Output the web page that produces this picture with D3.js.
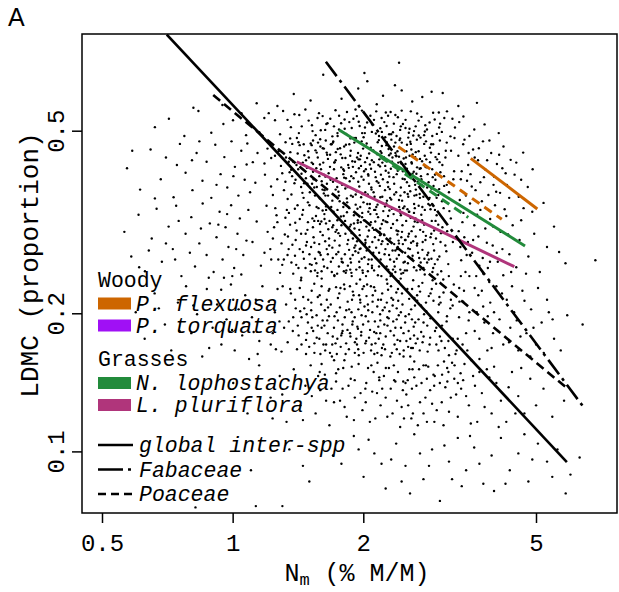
<!DOCTYPE html>
<html><head><meta charset="utf-8">
<script src="https://cdn.jsdelivr.net/npm/d3@7"></script>
<style>body{margin:0;background:#fff}svg{display:block}</style>
</head><body><svg id="c" width="619" height="592"></svg>
<script>
const xTicks=[0.5,1,2,5];
const yTicks=[0.1,0.2,0.5];
const points=[
[1.617,.662],[2.043,.641],[2.418,.703],[2.366,.628],[2.452,.612],[2.874,.608],[1.383,.601],[2.221,.596],[3.048,.604],[1.947,.618],
[1.136,.574],[1.782,.587],[2.593,.579],[3.312,.566],[.947,.569],[2.148,.571],[2.735,.592],[1.512,.582],[3.655,.575],[1.268,.566],[.812,.561],[2.012,.668],
[.713,.531],[.834,.552],[.952,.517],[1.048,.546],[1.117,.508],[1.183,.533],[1.252,.527],[1.307,.552],[1.362,.509],[1.424,.541],
[1.471,.556],[1.523,.514],[1.581,.546],[1.634,.502],[1.679,.531],[1.726,.554],[1.778,.519],[1.834,.549],[1.881,.507],[1.933,.538],
[1.986,.553],[2.041,.521],[2.093,.497],[2.142,.551],[2.204,.533],[2.263,.512],[2.312,.549],[2.371,.541],[2.432,.502],[2.503,.528],
[2.574,.551],[2.641,.511],[2.723,.536],[2.804,.503],[2.897,.547],[3.006,.518],[3.118,.551],[3.253,.508],[3.402,.537],[1.553,.489],
[2.003,.484],[2.352,.518],[1.744,.494],[2.607,.488],[1.286,.491],[3.604,.503],[1.406,.482],[1.497,.526],[1.612,.538],[1.697,.486],
[1.811,.529],[1.903,.482],[1.962,.512],[2.077,.539],[2.174,.487],[2.236,.522],[2.294,.491],[2.403,.535],[2.468,.517],[2.539,.483],
[2.682,.526],[2.761,.489],[2.843,.521],[2.955,.492],[3.074,.533],[3.176,.486],[3.327,.522],[3.512,.487],[3.806,.516],[4.103,.494],
[1.211,.546],[1.338,.528],[1.443,.511],[1.569,.533],[1.654,.519],[1.759,.539],[1.857,.522],[1.919,.556],[2.018,.508],[2.117,.528],
[2.189,.506],[2.281,.539],[2.341,.496],[2.452,.553],[2.556,.505],[2.662,.545],[2.779,.514],[2.921,.529],[3.034,.497],[1.074,.489],
[.893,.495],[1.002,.527],[1.152,.496],[1.388,.543],[1.596,.501],[1.712,.511],[1.898,.531],[2.254,.548],[2.502,.507],[2.618,.499],
[3.209,.531],[2.986,.548],[2.386,.487],[1.826,.492],[1.528,.499],[.774,.487],[.662,.509],
[1.532,.476],[1.758,.503],[1.983,.474],[2.207,.497],[2.432,.481],[2.657,.478],[2.884,.487],[3.114,.471],[1.644,.517],[1.869,.481],
[2.096,.516],[2.321,.478],[2.547,.495],[2.773,.498],[3.002,.476],[1.421,.494],[1.705,.474],[2.138,.493],[2.566,.473],[2.991,.508],
[1.591,.479],[2.016,.494],[2.441,.511],[2.867,.467],[1.812,.505],[2.264,.472],[2.709,.483],[1.357,.481],[3.245,.482],[1.952,.523],
[.571,.414],[.612,.372],[.647,.455],[.683,.392],[.702,.437],[.731,.358],[.756,.468],[.779,.405],[.808,.371],[.826,.447],
[.852,.389],[.871,.428],[.893,.357],[.912,.466],[.938,.402],[.957,.438],[.972,.376],[.994,.474],[1.012,.417],[1.031,.361],
[1.047,.452],[1.066,.391],[1.081,.469],[1.097,.367],[1.113,.427],[1.128,.385],[1.141,.447],[.662,.356],[.744,.421],[.838,.474],
[.918,.381],[1.004,.398],[1.077,.422],[.587,.452],[.806,.431],
[1.712,.412],[2.381,.367],[1.493,.451],[2.814,.402],[1.958,.378],[2.207,.463],[1.267,.392],[2.634,.438],[1.833,.356],[3.042,.421],
[1.584,.398],[2.115,.427],[2.947,.371],[1.372,.468],[2.468,.408],[1.659,.361],[2.293,.442],[1.184,.424],[2.726,.381],[1.907,.471],
[2.052,.402],[1.438,.377],[3.186,.452],[2.539,.359],[1.774,.444],[2.348,.396],[1.238,.362],[2.897,.467],[1.617,.426],[2.002,.349],
[2.661,.416],[1.524,.383],[2.172,.477],[1.327,.437],[2.417,.353],[1.876,.398],[3.114,.381],[1.691,.467],[2.771,.441],[1.416,.412],
[2.244,.371],[1.964,.433],[2.581,.455],[1.203,.457],[2.932,.391],[1.548,.361],[2.081,.459],[1.787,.381],[2.502,.423],[1.301,.404],
[2.697,.364],[1.639,.476],[2.329,.428],[1.852,.415],[3.238,.408],[1.457,.357],[2.148,.388],[2.849,.427],[1.736,.394],[2.453,.471],
[1.252,.441],[2.027,.412],[1.921,.363],[2.607,.392],[1.571,.437],[2.268,.352],[1.396,.391],[2.986,.445],[1.807,.462],[2.196,.401],
[2.751,.359],[1.664,.404],[2.372,.447],[1.513,.469],[2.112,.367],[1.339,.355],[3.069,.398],[1.945,.447],[2.521,.386],[1.753,.368],
[2.315,.413],[1.604,.388],[2.789,.474],[1.451,.426],[2.061,.383],[1.887,.429],[2.436,.361],[1.226,.378],[2.883,.412],[1.677,.443],
[2.231,.438],[1.532,.407],[2.643,.372],[1.981,.397],[2.408,.426],[1.358,.449],[2.977,.362],[1.819,.436],[2.153,.444],[1.588,.356],
[2.557,.441],[1.727,.431],[2.036,.469],[1.475,.394],[2.716,.398],[1.292,.419],[2.276,.386],[1.842,.377],[3.151,.367],[1.623,.457],
[2.491,.392],[1.924,.406],[2.189,.358],[1.403,.421],[2.828,.386],[1.697,.352],[2.354,.462],[1.559,.414],[2.093,.431],[1.768,.458],
[2.614,.407],[1.498,.437],[2.003,.391],[1.871,.452],[2.441,.376],[1.313,.371],[2.958,.433],[1.649,.383],[2.247,.419],[1.187,.401],
[2.682,.451],[1.542,.376],[2.128,.407],[1.799,.402],[2.531,.364],[1.427,.465],[2.794,.416],[1.976,.419],[2.302,.373],[1.714,.426],
[2.388,.402],[1.611,.372],[2.041,.436],[1.861,.388],[2.587,.424],[1.364,.411],[3.011,.406],[1.742,.377],[2.219,.392],[1.487,.383],
[2.478,.435],[1.931,.369],[2.167,.421],[1.676,.417],[2.732,.429],[1.562,.448],[2.319,.354],[1.998,.457],[2.864,.448],[1.276,.451],
[2.087,.376],[1.824,.394],[2.429,.414],[1.593,.462],[2.669,.387],[1.388,.384],[2.261,.465],[1.789,.436],[2.136,.396],[1.636,.397],
[2.513,.451],[1.947,.387],[2.356,.383],[1.463,.442],[2.903,.379],[1.703,.387],[2.071,.422],[1.914,.428],[2.623,.361],[1.521,.426],
[2.203,.447],[1.758,.361],[2.464,.393],[1.347,.428],[3.092,.437],[1.658,.434],[2.021,.367],[1.857,.467],[2.287,.405],[1.598,.412],
[2.702,.434],[1.441,.403],[2.159,.472],[1.806,.409],[2.552,.379],[1.973,.441],[2.397,.451],[1.227,.436],[2.843,.357],[1.681,.391],
[2.055,.399],[1.537,.392],[2.335,.437],[1.892,.359],[2.599,.444],[1.412,.446],[2.183,.379],[1.729,.449],[2.926,.401],[1.628,.371],
[2.448,.424],[1.954,.414],[2.253,.409],[1.483,.415],[2.763,.468],[1.846,.421],[2.109,.453],[1.573,.471],[2.489,.367],[1.323,.387],
[2.019,.427],[1.779,.416],[2.371,.471],[1.647,.448],[2.651,.403],[1.935,.437],[2.213,.426],[1.506,.367],[3.225,.392],[1.866,.441],
[2.417,.439],[1.703,.471],[2.123,.359],[1.589,.422],[2.573,.468],[1.992,.364],[2.338,.424],[1.458,.467],[2.807,.376],[1.746,.456],
[2.063,.446],[1.622,.365],[2.287,.456],[1.899,.394],[2.521,.413],[1.371,.398],[2.178,.433],[1.818,.374],[2.712,.414],[1.552,.453],
[1.324,.472],[1.527,.322],[1.745,.487],[1.962,.276],[2.186,.418],[2.407,.302],[2.633,.381],[2.871,.263],[3.098,.452],[1.438,.298],
[1.651,.443],[1.873,.361],[2.094,.254],[2.318,.491],[2.547,.333],[2.776,.418],[3.013,.286],[1.366,.363],[1.588,.271],[1.807,.395],
[2.029,.462],[2.252,.317],[2.476,.258],[2.701,.357],[2.934,.438],[1.401,.255],[1.622,.401],[1.846,.289],[2.071,.346],[2.296,.397],
[2.522,.466],[2.748,.301],[2.991,.373],[1.476,.431],[1.697,.308],[1.923,.482],[2.147,.329],[2.371,.274],[2.597,.403],[2.824,.346],
[1.341,.294],[1.563,.377],[1.784,.259],[2.008,.408],[2.233,.297],[2.457,.352],[2.684,.488],[2.912,.303],[3.158,.334],[1.491,.349],
[1.718,.427],[1.942,.315],[2.168,.385],[2.392,.276],[2.619,.346],[2.847,.459],[3.072,.379],[1.418,.472],[1.642,.336],[1.866,.249],
[2.089,.372],[2.313,.446],[2.538,.294],[2.766,.263],[2.997,.427],[1.353,.406],[1.574,.318],[1.798,.412],[2.024,.285],[2.247,.484],
[2.471,.339],[2.697,.413],[2.925,.336],[1.506,.256],[1.727,.372],[1.951,.433],[2.175,.271],[2.401,.409],[2.628,.317],[2.857,.293],
[1.461,.384],[1.684,.467],[1.907,.278],[2.131,.336],[2.357,.363],[2.583,.427],[2.809,.268],[3.037,.351],[1.391,.338],[1.613,.458],
[1.836,.349],[2.058,.262],[2.283,.377],[2.508,.437],[2.736,.341],[2.967,.262],[1.543,.285],[1.764,.351],[1.988,.494],[2.212,.359],
[2.436,.331],[2.662,.284],[2.891,.396],[1.312,.262],[1.532,.423],[1.753,.299],[1.977,.358],[2.201,.283],[2.424,.477],[2.651,.362],
[2.881,.346],[3.121,.302],[1.448,.366],[1.669,.281],[1.893,.417],[2.117,.304],[2.342,.249],[2.566,.369],[2.794,.433],[3.024,.247],
[1.379,.428],[1.601,.317],[1.824,.466],[2.047,.363],[2.271,.429],[2.495,.289],[2.722,.392],[2.951,.357],[1.521,.465],[1.741,.244],
[1.968,.341],[2.191,.451],[2.416,.284],[2.642,.449],[2.871,.374],[3.217,.286],[1.636,.361],[1.862,.309],[2.084,.413],[2.305,.357],
[3.312,.441],[3.356,.392],[3.398,.467],[3.447,.361],[3.489,.421],[3.533,.402],[3.581,.455],[3.628,.371],[3.676,.431],[3.721,.386],
[3.774,.474],[3.826,.411],[3.884,.362],[3.942,.447],[4.003,.397],[4.064,.423],[4.132,.366],[4.208,.462],[4.285,.381],[4.371,.432],
[4.463,.401],[4.562,.359],[4.671,.448],[4.786,.377],[4.912,.412],[3.337,.353],[3.468,.389],[3.612,.437],[3.752,.351],[3.905,.476],
[4.048,.368],[4.182,.414],[4.337,.357],[4.503,.426],[3.421,.478],[3.556,.378],[3.692,.458],[3.858,.431],[4.112,.443],[4.256,.404],
[3.371,.408],[3.497,.447],[3.793,.396],[3.991,.381],[4.621,.391],
[.563,.301],[.584,.266],[.607,.328],[.628,.247],[.651,.291],[.668,.338],[.687,.259],[.712,.309],[.728,.276],[.741,.343],
[.762,.241],[.779,.298],[.803,.324],[.819,.253],[.838,.284],[.853,.347],[.871,.268],[.886,.314],[.904,.246],[.918,.293],
[.933,.333],[.948,.262],[.963,.308],[.978,.279],[.992,.344],[1.008,.251],[1.026,.298],[1.039,.322],[1.058,.268],[1.076,.288],
[.881,.239],[.751,.318],[.641,.274],[.998,.241],[.971,.329],[.702,.284],[.797,.271],[.927,.312],[1.047,.243],[1.087,.336],
[.609,.252],[.845,.306],[.737,.262],[1.019,.276],[.955,.239],
[1.872,.312],[2.416,.268],[1.348,.331],[2.781,.289],[1.603,.247],[2.143,.341],[1.221,.276],[2.934,.318],[1.957,.259],[2.584,.302],
[1.483,.286],[2.297,.335],[1.715,.242],[3.107,.273],[1.136,.317],[2.047,.294],[2.652,.248],[1.577,.339],[2.356,.283],[1.802,.326],
[2.923,.256],[1.274,.262],[2.188,.306],[1.668,.291],[2.488,.342],[1.418,.251],[2.036,.274],[2.721,.328],[1.921,.345],[1.531,.308],
[2.264,.253],[1.763,.281],[3.021,.299],[1.197,.343],[2.562,.276],[1.843,.254],[2.392,.319],[1.452,.272],[2.118,.248],[2.857,.337],
[1.628,.321],[2.007,.319],[1.319,.297],[2.691,.264],[1.935,.287],[2.472,.245],[1.548,.263],[2.213,.287],[1.744,.336],[3.182,.322],
[1.162,.254],[2.318,.307],[1.891,.268],[2.617,.331],[1.394,.315],[2.091,.262],[1.657,.269],[2.823,.271],[1.989,.331],[2.447,.293],
[1.503,.344],[2.239,.269],[1.819,.298],[2.966,.243],[1.246,.308],[2.534,.257],[1.705,.311],[2.163,.324],[1.439,.239],[2.762,.312],
[1.958,.304],[2.371,.246],[1.583,.283],[2.068,.339],[1.338,.268],[2.641,.294],[1.782,.263],[2.281,.326],[1.111,.286],[2.898,.283],
[1.624,.253],[2.201,.241],[1.858,.339],[2.511,.318],[1.473,.298],[2.017,.282],[2.752,.251],[1.697,.278],[2.336,.274],[1.262,.327],
[3.063,.339],[1.927,.249],[2.427,.336],[1.556,.326],[2.102,.307],[1.737,.304],[2.598,.267],[1.373,.282],[2.259,.347],[1.828,.248],
[2.869,.298],[1.184,.271],[2.141,.278],[1.641,.342],[2.493,.259],[1.973,.316],[2.683,.343],[1.521,.255],[2.308,.291],[1.776,.325],
[2.051,.256],[1.411,.344],[2.577,.285],[1.893,.291],[2.951,.327],[1.592,.301],[2.224,.334],[1.286,.245],[2.401,.279],[1.684,.259],
[2.737,.275],[1.948,.271],[2.127,.293],[1.491,.316],[2.528,.337],[1.814,.269],[3.139,.256],[1.356,.312],[2.076,.329],[1.719,.288],
[2.354,.259],[1.612,.335],[2.639,.322],[1.903,.327],[2.193,.262],[1.459,.263],[2.806,.258],[1.238,.291],[2.029,.241],[1.851,.306],
[2.462,.311],[1.569,.245],[2.271,.316],[1.757,.253],[2.994,.266],[1.397,.289],[2.157,.345],[1.672,.318],[2.548,.298],[1.983,.263],
[2.386,.303],[1.516,.279],[2.704,.304],[1.799,.341],[2.109,.271],[1.301,.255],[2.311,.241],[1.647,.276],[2.617,.252],[1.918,.281],
[2.876,.318],[1.447,.328],[2.236,.296],[1.733,.269],[2.061,.303],[1.204,.301],[2.497,.271],[1.873,.258],[2.772,.336],[1.589,.313],
[2.174,.253],[1.366,.258],[2.419,.341],[1.963,.296],[2.659,.281],[1.536,.293],[2.293,.268],[1.692,.246],[3.043,.308],[1.838,.283],
[2.082,.316],[1.427,.276],[2.571,.323],[1.781,.311],[2.349,.329],[1.616,.262],[2.012,.265],[1.254,.339],[2.831,.262],[1.903,.314],
[2.467,.283],[1.472,.251],[2.206,.313],[1.661,.305],[2.732,.319],[1.992,.248],[2.388,.263],[1.561,.341],[2.119,.336],[1.323,.323],
[2.611,.309],[1.816,.318],[2.249,.276],[1.708,.333],[2.941,.291],[1.404,.303],[2.043,.346],[1.878,.245],[2.521,.248],[1.634,.287],
[2.327,.338],[1.503,.269],[2.094,.251],[1.768,.295],[2.674,.271],[1.939,.338],[2.441,.327],[1.346,.276],[2.178,.301],[1.595,.268],
[2.898,.251],[1.855,.275],[2.277,.283],[1.227,.262],[2.553,.333],[1.687,.341],[2.022,.289],[1.453,.336],[2.788,.295],[1.971,.277],
[2.363,.253],[1.542,.318],[2.137,.264],[1.794,.258],[2.629,.339],[1.379,.244],[2.456,.301],[1.909,.306],[2.223,.319],[1.653,.251],
[3.091,.281],[1.487,.304],[2.066,.279],[1.743,.319],[2.503,.289],[1.296,.284],[2.306,.262],[1.834,.332],[2.712,.258],[1.578,.272],
[2.186,.296],[1.961,.252],[2.412,.288],[1.428,.321],[2.848,.344],[1.701,.264],[2.054,.333],[1.613,.296],[2.591,.263],[1.881,.299],
[2.245,.342],[1.514,.247],[2.341,.313],[1.752,.272],[2.977,.312],[1.333,.336],[2.098,.286],[1.987,.324],[2.539,.277],[1.641,.314],
[2.434,.249],[1.867,.263],[2.169,.289],[1.476,.281],[2.667,.316],[1.726,.301],[2.033,.309],[1.559,.257],[2.283,.249],[1.918,.273],
[2.741,.286],[1.392,.267],[2.397,.297],[1.804,.247],[2.131,.317],[1.627,.329],[2.606,.287],[1.268,.316],[2.912,.274],[1.943,.319],
[3.318,.302],[3.362,.261],[3.402,.331],[3.439,.246],[3.484,.286],[3.523,.347],[3.563,.271],[3.604,.311],[3.641,.241],[3.683,.294],
[3.722,.336],[3.769,.264],[3.821,.306],[3.873,.251],[3.921,.321],[3.974,.281],[4.023,.344],[4.082,.259],[4.141,.301],[4.203,.242],
[4.271,.326],[4.342,.269],[4.418,.311],[4.503,.252],[4.582,.289],[4.681,.339],[4.802,.266],[4.953,.298],[5.102,.246],[5.301,.279],
[3.384,.316],[3.582,.289],[3.781,.244],[3.983,.309],[4.184,.276],[4.383,.246],[4.622,.319],[5.502,.309],[6.851,.261],[3.461,.268],
[4.902,.333],[5.204,.348],[3.702,.254],[3.347,.279],[3.511,.241],[3.658,.328],[3.852,.285],[4.061,.271],[4.312,.297],[4.742,.244],
[5.652,.272],[3.418,.293],[3.917,.259],[4.234,.337],[5.847,.257],
[.598,.201],[.627,.176],[.661,.221],[.698,.189],[.722,.166],[.748,.211],[.781,.229],[.803,.181],[.828,.199],[.851,.161],
[.872,.226],[.899,.186],[.921,.209],[.942,.171],[.968,.194],[.991,.231],[1.011,.166],[1.032,.204],[1.052,.179],[1.069,.219],
[1.091,.159],[1.108,.196],[1.131,.214],[1.152,.174],[1.171,.229],[.812,.208],[.941,.225],[1.062,.191],[1.142,.163],[.754,.183],
[.883,.168],[1.003,.214],[1.118,.182],[.676,.205],[.997,.184],
[1.748,.193],[2.361,.171],[1.362,.221],[2.793,.202],[1.593,.163],[2.118,.228],[1.237,.181],[2.946,.186],[1.967,.214],[2.602,.168],
[1.481,.199],[2.272,.232],[1.726,.172],[3.213,.208],[1.304,.229],[2.073,.184],[2.661,.219],[1.562,.177],[2.388,.205],[1.821,.163],
[3.061,.222],[1.413,.188],[2.203,.162],[1.671,.226],[2.497,.191],[1.947,.167],[2.736,.233],[1.518,.211],[2.311,.183],[1.863,.229],
[1.258,.167],[2.026,.197],[2.566,.161],[1.631,.203],[3.141,.174],[1.398,.205],[2.164,.214],[1.786,.181],[2.456,.221],[1.911,.196],
[2.852,.177],[1.542,.232],[2.236,.189],[1.693,.161],[2.631,.208],[1.339,.173],[2.091,.171],[1.991,.226],[2.414,.198],[1.603,.186],
[3.324,.196],[1.841,.212],[2.327,.164],[1.454,.217],[2.753,.191],[1.212,.212],[2.049,.209],[1.731,.228],[2.544,.183],[1.928,.176],
[2.186,.199],[1.501,.169],[2.902,.213],[1.652,.193],[2.281,.225],[1.379,.196],[2.618,.179],[1.887,.189],[2.119,.182],[1.587,.219],
[3.451,.181],[2.432,.174],[1.767,.206],[2.003,.164],[1.282,.192],[2.703,.223],[1.533,.183],[2.344,.192],[1.853,.167],[2.976,.201],
[1.441,.171],[2.154,.207],[1.712,.186],[2.527,.226],[1.979,.182],[2.224,.171],[1.619,.171],[2.814,.165],[1.328,.209],[2.407,.213],
[1.892,.223],[2.062,.177],[1.561,.198],[2.681,.194],[1.774,.169],[2.297,.202],[1.428,.227],[3.037,.188],[1.948,.204],[2.478,.166],
[1.648,.214],[2.131,.224],[1.224,.171],[2.578,.204],[1.813,.196],[2.253,.178],[1.491,.191],[2.876,.226],[1.701,.178],[2.034,.218],
[2.371,.186],[1.603,.229],[3.281,.166],[1.934,.171],[2.189,.193],[1.376,.183],[2.739,.173],[1.839,.184],[2.462,.209],[1.543,.164],
[2.098,.201],[1.761,.221],[2.613,.187],[1.296,.165],[2.322,.216],[1.998,.189],[2.947,.171],[1.667,.197],[2.208,.168],[1.462,.205],
[2.514,.174],[1.879,.201],[2.041,.231],[1.584,.176],[2.789,.211],[1.347,.192],[2.404,.226],[1.738,.163],[2.166,.187],[1.956,.219],
[3.118,.197],[1.521,.224],[2.289,.195],[1.806,.231],[2.642,.172],[1.419,.179],[2.084,.166],[1.683,.209],[2.443,.186],[1.913,.173],
[2.857,.195],[1.571,.188],[2.241,.206],[1.269,.226],[2.551,.215],[1.791,.189],[2.013,.207],[1.634,.166],[2.719,.182],[1.982,.198],
[2.353,.179],[1.476,.175],[2.127,.192],[1.748,.216],[2.988,.209],[1.393,.214],[2.589,.194],[1.868,.178],[2.266,.211],[1.612,.193],
[3.397,.212],[1.929,.232],[2.426,.163],[1.517,.203],[2.171,.176],[1.717,.197],[2.684,.229],[1.314,.186],[2.054,.192],[1.826,.172],
[2.502,.197],[1.656,.181],[2.317,.229],[1.969,.211],[2.808,.188],[1.441,.196],[2.211,.221],[1.599,.209],[2.389,.167],[1.884,.214],
[3.183,.214],[1.543,.172],[2.101,.212],[1.779,.179],[2.623,.216],[1.357,.226],[2.274,.188],[1.944,.185],[2.537,.169],[1.696,.171],
[2.022,.172],[1.483,.181],[2.926,.183],[1.811,.226],[2.441,.201],[1.627,.188],[2.143,.181],[1.251,.201],[2.761,.199],[1.891,.192],
[2.337,.208],[1.571,.217],[2.082,.229],[1.736,.201],[3.512,.201],[1.407,.167],[2.476,.181],[1.912,.164],[2.197,.214],[1.664,.224],
[2.668,.176],[1.526,.196],[2.388,.194],[1.855,.204],[3.002,.178],[1.431,.202],[2.053,.203],[1.792,.183],[2.591,.226],[1.977,.179],
[1.437,.236],[1.659,.206],[1.881,.241],[2.103,.219],[2.326,.244],[2.548,.199],[2.771,.243],[2.995,.217],[3.233,.231],[1.548,.248],
[1.772,.227],[1.995,.245],[2.217,.203],[2.439,.238],[2.662,.213],[2.886,.246],[3.112,.192],[3.356,.241],[1.493,.214],[1.716,.241],
[1.938,.187],[2.161,.242],[2.383,.222],[2.606,.236],[2.831,.218],[3.057,.237],[3.301,.176],[1.604,.238],[1.827,.203],[2.049,.247],
[2.272,.196],[2.494,.248],[2.717,.208],[2.943,.232],[3.173,.205],[3.412,.224],[1.521,.186],[1.743,.176],[1.966,.237],[2.188,.181],
[2.411,.235],[2.634,.191],[2.857,.221],[3.083,.168],[3.327,.227],[1.676,.164],[1.899,.219],[2.121,.163],[2.343,.214],[2.566,.176],
[2.789,.154],[3.014,.211],[3.246,.154],[3.498,.193],[1.587,.149],[1.809,.158],[2.031,.174],[2.254,.152],[2.476,.161],[2.698,.166],
[2.922,.146],[3.151,.162],[3.387,.171],[1.731,.148],[1.953,.162],[2.176,.145],[2.398,.175],[2.621,.157],[2.843,.171],[3.069,.157],
[3.303,.141],[3.551,.158],[1.642,.171],[1.864,.181],[2.087,.154],[2.309,.161],[2.532,.143],[2.754,.178],[2.981,.166],[3.214,.176],
[1.798,.152],[2.022,.137],[2.244,.167],[2.467,.136],[2.689,.151],[2.913,.139],[3.142,.149],[3.473,.166],[1.911,.143],[2.133,.172],
[2.356,.143],[2.578,.168],[2.802,.144],[3.027,.174],[3.262,.163],[1.567,.241],[2.006,.229],[2.447,.244],[2.889,.236],[3.331,.212],
[1.713,.158],[2.155,.164],[2.597,.151],[3.038,.147],[1.822,.245],[2.264,.237],[2.705,.249],[3.149,.241],[1.476,.163],[3.611,.227],
[3.652,.201],[3.703,.176],[3.751,.224],[3.802,.191],[3.863,.166],[3.922,.211],[3.981,.181],[4.052,.229],[4.121,.194],[4.203,.171],
[4.282,.214],[4.363,.186],[4.452,.201],[4.553,.166],[4.652,.224],[4.753,.181],[4.872,.204],[5.003,.171],[5.152,.191],[5.302,.214],
[5.503,.176],[5.352,.201],[5.461,.194],[3.704,.159],[4.002,.201],[4.403,.229],[4.851,.161],[5.702,.166],[6.403,.189],[3.902,.234],
[3.612,.183],[3.778,.207],[3.951,.168],[4.174,.221],[4.332,.173],[4.514,.193],[4.703,.213],[4.934,.186],[5.211,.164],[3.682,.219],
[3.871,.197],[4.086,.183],[4.604,.178],[5.054,.227],[5.901,.198],
[1.003,.141],[1.082,.121],[1.151,.154],[1.223,.131],[1.284,.146],[1.331,.116],[1.383,.151],[1.432,.126],[1.471,.139],[1.513,.154],
[1.553,.121],[1.592,.136],[1.631,.147],[1.671,.114],[1.712,.128],[1.751,.151],[1.792,.137],[1.832,.119],[1.871,.144],[1.912,.131],
[1.951,.155],[1.991,.123],[2.032,.141],[2.071,.116],[2.113,.149],[2.151,.134],[2.192,.126],[2.231,.146],[2.272,.119],[2.313,.137],
[2.352,.154],[2.391,.129],[2.432,.113],[2.472,.142],[2.513,.133],[2.553,.151],[2.602,.121],[2.651,.139],[2.702,.128],[2.753,.154],
[2.803,.116],[2.851,.136],[2.902,.147],[2.953,.123],[3.002,.141],[3.061,.114],[3.121,.152],[3.182,.131],[3.241,.144],[3.302,.119],
[3.361,.137],[3.421,.155],[3.502,.126],[3.581,.146],[3.661,.116],[3.752,.134],[3.852,.151],[3.951,.121],[4.052,.141],[4.151,.129],
[4.271,.116],[4.402,.149],[4.551,.132],[4.702,.121],[4.851,.144],[5.002,.126],[5.203,.137],[5.452,.119],[5.803,.129],[1.603,.155],
[1.731,.142],[1.971,.134],[2.132,.118],[2.291,.152],[2.451,.125],[2.621,.145],[2.781,.131],[2.971,.154],[3.151,.122],[3.351,.148],
[1.522,.132],[1.811,.125],[2.051,.152],[2.211,.137],[2.371,.142],[2.581,.118],[2.881,.127],[3.091,.138],[3.451,.132],[3.902,.145],
[1.301,.133],[1.881,.153],[2.671,.114],[4.102,.113],[2.502,.141],
[1.642,.129],[1.903,.117],[2.177,.143],[2.404,.149],[2.724,.141],[3.033,.128],[3.273,.133],[3.617,.139],[4.003,.153],[4.324,.138],
[1.452,.117],[1.768,.129],[2.026,.128],[2.252,.131],[2.538,.126],[2.823,.153],[3.203,.156],[3.538,.115],[3.807,.125],[4.623,.152],
[1.236,.118],[1.574,.146],[1.849,.139],[2.097,.135],[2.336,.121],[2.589,.137],[2.916,.116],[3.397,.143],[3.703,.149],[4.482,.121],
[2.156,.156],[2.482,.118],[1.689,.137],[2.753,.121],[3.124,.142],
[1.102,.091],[1.351,.101],[1.502,.086],[1.621,.105],[1.781,.094],[1.902,.108],[2.003,.088],[2.121,.099],[2.252,.083],[2.381,.104],
[2.502,.093],[2.621,.109],[2.752,.087],[2.881,.101],[3.003,.078],[3.151,.095],[3.302,.107],[3.451,.091],[3.602,.102],[3.781,.085],
[3.951,.098],[4.151,.107],[4.351,.091],[4.553,.099],[4.802,.086],[5.051,.104],[5.302,.095],[5.603,.101],[6.003,.089],[6.302,.097],
[2.203,.094],[2.702,.099],[3.203,.087],[1.951,.101],[4.002,.082],[1.302,.076],[.821,.0755],[1.131,.076],
[1.703,.098],[2.057,.106],[2.319,.096],[2.563,.081],[2.834,.093],[3.076,.103],[3.372,.084],[3.703,.094],[4.253,.085],[4.702,.109],
[5.451,.088],[1.452,.093],[2.451,.086],[3.523,.108],[4.903,.096],[5.853,.081]
];
const fitNames=["global inter-spp","Fabaceae","Poaceae","P. flexuosa","P. flexuosa b","N. lophostachya","N. lophostachya b","L. pluriflora"];
const fitN=[[0.705,5.89],[1.64,6.43],[0.902,5.885],[3.537,5.035],[2.409,4.17],[1.761,4.717],[2.186,3.49],[1.405,4.457]];
const fitLDMC=[[0.81,0.0948],[0.707,0.125],[0.598,0.1375],[0.4352,0.3375],[0.4614,0.3206],[0.5017,0.2804],[0.4387,0.3236],[0.4279,0.2527]];
const woodyNames=["P. flexuosa","P. torquata"];
const grassNames=["N. lophostachya","L. pluriflora"];
const fitLegend=["global inter-spp","Fabaceae","Poaceae"];

const col={orange:"#cd6600",purple:"#a010f5",green:"#228b3b",mag:"#b0357b"};
const fitStyle=[
 {c:"#000",w:2.6,d:null},{c:"#000",w:2.6,d:"18,5,3,5"},{c:"#000",w:2.6,d:"9,5"},
 {c:col.orange,w:3,d:null},{c:col.orange,w:3,d:"9,6"},
 {c:col.green,w:3,d:null},{c:col.green,w:3,d:"9,6"},{c:col.mag,w:3,d:null}];
const woodyCols=[col.orange,col.purple], grassCols=[col.green,col.mag];
const fitDash=[null,"25,5,3,5","8,5"];

const svg=d3.select("#c");
const FONT="'Liberation Mono', 'DejaVu Sans Mono', monospace";
const L=82,R=617,T=34,B=513;
const x=d3.scaleLog().domain([0.5,5]).range([102,536]);
const y=d3.scaleLog().domain([0.5,0.1]).range([130.7,451.4]);

svg.append("defs").append("clipPath").attr("id","clip").append("rect").attr("x",L).attr("y",T).attr("width",R-L).attr("height",B-T);

const g=svg.append("g").attr("clip-path","url(#clip)");
g.selectAll("circle").data(points).join("circle")
 .attr("cx",d=>x(d[0])).attr("cy",d=>y(d[1])).attr("r",1.2).attr("fill","#000");

const line=d3.line().x(d=>x(d[0])).y(d=>y(d[1]));
const order=[3,4,5,6,7,0,1,2];
order.forEach(i=>{
  const pts=fitN[i].map((n,k)=>[n,fitLDMC[i][k]]);
  g.append("path").attr("d",line(pts)).attr("fill","none")
   .attr("stroke",fitStyle[i].c).attr("stroke-width",fitStyle[i].w)
   .attr("stroke-dasharray",fitStyle[i].d).attr("stroke-linecap","butt");
});

svg.append("rect").attr("x",L).attr("y",T).attr("width",R-L).attr("height",B-T)
 .attr("fill","none").attr("stroke","#000").attr("stroke-width",1.5);

const xa=svg.append("g").attr("transform",`translate(0,${B})`)
 .call(d3.axisBottom(x).tickValues(xTicks).tickFormat(d3.format("~g")).tickSize(10).tickPadding(11));
xa.select(".domain").remove();
xa.selectAll("line").attr("stroke-width",1.5);
xa.selectAll("text").attr("font-family",FONT).attr("font-size",24).attr("fill","#000");

const ya=svg.append("g").attr("transform",`translate(${L},0)`)
 .call(d3.axisLeft(y).tickValues(yTicks).tickFormat(d3.format("~g")).tickSize(10));
ya.select(".domain").remove();
ya.selectAll("line").attr("stroke-width",1.5);
ya.selectAll("text").attr("font-family",FONT).attr("font-size",24).attr("fill","#000")
 .attr("x",null).attr("dy",null).attr("text-anchor","middle")
 .attr("transform","translate(-18,0) rotate(-90)");

const xt=svg.append("text").attr("x",357).attr("y",581).attr("text-anchor","middle")
 .attr("font-family",FONT).attr("font-size",25);
xt.append("tspan").text("N");
xt.append("tspan").attr("font-size",17).attr("dy",4).text("m");
xt.append("tspan").attr("dy",-4).text(" (% M/M)");

svg.append("text").attr("transform",`translate(38,265) rotate(-90)`).attr("text-anchor","middle")
 .attr("font-family",FONT).attr("font-size",26).text("LDMC (proportion)");

svg.append("text").attr("x",8).attr("y",26).attr("font-family","'Liberation Sans', sans-serif").attr("font-size",25).text("A");

const lg=svg.append("g").attr("font-family",FONT).attr("font-size",21.5);
lg.append("text").attr("x",98).attr("y",287).text("Woody");
woodyNames.forEach((n,i)=>{
  const cy=303.5+i*22;
  lg.append("rect").attr("x",98).attr("y",cy-6).attr("width",33).attr("height",12).attr("fill",woodyCols[i]);
  lg.append("text").attr("x",136).attr("y",cy+7).attr("font-style","italic").text(n);
});
lg.append("text").attr("x",98).attr("y",366).text("Grasses");
grassNames.forEach((n,i)=>{
  const cy=383+i*22;
  lg.append("rect").attr("x",98).attr("y",cy-6).attr("width",33).attr("height",12).attr("fill",grassCols[i]);
  lg.append("text").attr("x",136).attr("y",cy+7).attr("font-style","italic").text(n);
});
fitLegend.forEach((n,i)=>{
  const cy=445+i*24.5;
  lg.append("line").attr("x1",98).attr("x2",133).attr("y1",cy).attr("y2",cy)
   .attr("stroke","#000").attr("stroke-width",2.6).attr("stroke-dasharray",fitDash[i]);
  lg.append("text").attr("x",139).attr("y",cy+7).attr("font-style","italic").text(n);
});
</script></body></html>
